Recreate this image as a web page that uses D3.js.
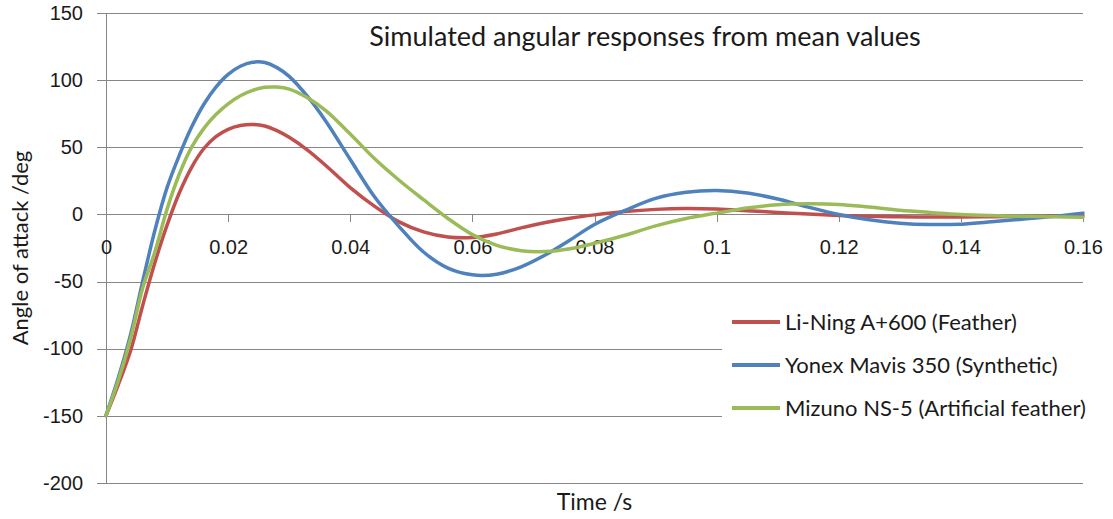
<!DOCTYPE html>
<html>
<head>
<meta charset="utf-8">
<script src="https://cdn.jsdelivr.net/npm/d3@7"></script>
<style>
  html, body { margin: 0; padding: 0; background: #fff; }
  svg { display: block; font-family: Lato, "Open Sans", sans-serif; }
  .grid line { stroke: #868686; stroke-width: 1; shape-rendering: crispEdges; }
  .tick text { fill: #1a1a1a; font-size: 20px; }
  .series { fill: none; stroke-width: 3.5; stroke-linejoin: round; stroke-linecap: round; }
</style>
</head>
<body>
<div id="chart"></div>
<script>
"use strict";

// time /s, shared by all three series
var times = [0, 0.002, 0.004, 0.006, 0.008, 0.01, 0.012, 0.014, 0.016, 0.018, 0.02, 0.022, 0.024, 0.026, 0.028, 0.03,
  0.033, 0.036, 0.04, 0.044, 0.048, 0.052, 0.056, 0.06, 0.064, 0.068, 0.072, 0.076, 0.08, 0.085, 0.09, 0.095, 0.1,
  0.105, 0.11, 0.115, 0.12, 0.125, 0.13, 0.135, 0.14, 0.145, 0.15, 0.155, 0.16];

// angle of attack /deg
var liNing = [-150, -127, -102, -68, -36, -8, 16, 35, 49, 58, 63.5, 66.3, 67.1, 66, 62.5, 57.5,
  48, 36.5, 20, 6, -5.5, -13, -16.8, -17.2, -14.5, -10, -6, -2.8, -0.3, 2.2, 3.8, 4.4, 4,
  2.8, 1.5, 0.3, -0.7, -1.3, -1.7, -1.9, -1.9, -1.7, -1.5, -1.2, -1];

var yonex = [-150, -122, -90, -50, -12, 20, 44, 65, 82, 95, 104.5, 110.5, 113.5, 113.3, 109.5, 103,
  88, 69.5, 41, 13, -9, -28, -40, -45, -44.5, -39, -30, -19, -7.5, 3, 12, 16.5, 17.8,
  16, 11.5, 5.5, 0, -4, -6.5, -7.5, -7.2, -5.5, -3.5, -1.5, 1];

var mizuno = [-150, -124, -93, -55, -28, 4, 30, 50, 64, 74.5, 82.5, 88.5, 92.5, 94.8, 95, 93.5,
  87, 77.5, 60, 41.5, 25.5, 11, -3, -15, -23, -27, -27.6, -25.5, -21.5, -15.5, -8.5, -3, 1,
  4.8, 7.3, 8, 7.5, 5.5, 3.2, 1.5, 0, -0.8, -1.3, -1.7, -2];

var seriesNames = ["Li-Ning A+600 (Feather)", "Yonex Mavis 350 (Synthetic)", "Mizuno NS-5 (Artificial feather)"];
var seriesColors = ["#C0504D", "#4F81BD", "#9BBB59"];

var xTicks = [0, 0.02, 0.04, 0.06, 0.08, 0.1, 0.12, 0.14, 0.16];
var yTicks = [-200, -150, -100, -50, 0, 50, 100, 150];

var title = "Simulated angular responses from mean values";
var xTitle = "Time /s";
var yTitle = "Angle of attack /deg";

(function () {
  var width = 1113,
      height = 519;

  var svg = d3.select("#chart").append("svg")
    .attr("width", width)
    .attr("height", height);

  var x = d3.scaleLinear().domain([0, 0.16]).range([106, 1083]);
  var y = d3.scaleLinear().domain([-200, 150]).range([482.7, 13.3]);

  // horizontal gridlines + y labels (plain hyphen for negatives)
  var yAxis = d3.axisLeft(y)
    .tickValues(yTicks)
    .tickSizeInner(-(x.range()[1] - 97))
    .tickSizeOuter(0)
    .tickPadding(14)
    .tickFormat(function (d) { return String(d); });

  svg.append("g")
    .attr("class", "grid")
    .attr("transform", "translate(97,0)")
    .call(yAxis)
    .call(function (g) { g.select(".domain").remove(); });

  // vertical axis line
  svg.append("line")
    .attr("x1", x(0)).attr("x2", x(0))
    .attr("y1", y(150)).attr("y2", y(-200))
    .attr("stroke", "#868686")
    .attr("shape-rendering", "crispEdges");

  // x axis sits on the zero line
  var xAxis = d3.axisBottom(x)
    .tickValues(xTicks)
    .tickSizeInner(8)
    .tickSizeOuter(0)
    .tickPadding(17)
    .tickFormat(function (d) { return String(+d.toFixed(2)); });

  svg.append("g")
    .attr("class", "grid")
    .attr("transform", "translate(0," + y(0) + ")")
    .call(xAxis)
    .call(function (g) { g.select(".domain").remove(); });

  // legend box hides the gridlines under it
  svg.append("rect")
    .attr("x", 722).attr("y", 298)
    .attr("width", 390).attr("height", 134)
    .attr("fill", "#fff");

  var seriesValues = [liNing, yonex, mizuno];

  var line = d3.line()
    .x(function (d) { return x(d[0]); })
    .y(function (d) { return y(d[1]); })
    .curve(d3.curveCatmullRom.alpha(0.5));

  svg.append("g")
    .selectAll("path")
    .data(seriesValues)
    .enter().append("path")
      .attr("class", "series")
      .attr("stroke", function (d, i) { return seriesColors[i]; })
      .attr("d", function (vals) {
        return line(vals.map(function (v, i) { return [times[i], v]; }));
      });

  // legend
  var legend = svg.append("g")
    .selectAll("g")
    .data(seriesNames)
    .enter().append("g")
      .attr("transform", function (d, i) { return "translate(732," + (322 + i * 43) + ")"; });

  legend.append("line")
    .attr("x1", 0).attr("x2", 48)
    .attr("stroke-width", 4)
    .attr("stroke", function (d, i) { return seriesColors[i]; });

  legend.append("text")
    .attr("x", 53)
    .attr("dy", "0.35em")
    .attr("fill", "#1a1a1a")
    .style("font-size", "22px")
    .text(function (d) { return d; });

  svg.append("text")
    .attr("x", 645).attr("y", 46)
    .attr("text-anchor", "middle")
    .attr("fill", "#1a1a1a")
    .style("font-size", "27px")
    .text(title);

  svg.append("text")
    .attr("x", (x.range()[0] + x.range()[1]) / 2).attr("y", 510)
    .attr("text-anchor", "middle")
    .attr("fill", "#1a1a1a")
    .style("font-size", "23px")
    .text(xTitle);

  svg.append("text")
    .attr("transform", "translate(28," + ((y.range()[0] + y.range()[1]) / 2) + ") rotate(-90)")
    .attr("text-anchor", "middle")
    .attr("fill", "#1a1a1a")
    .style("font-size", "22px")
    .text(yTitle);
})();
</script>
</body>
</html>
